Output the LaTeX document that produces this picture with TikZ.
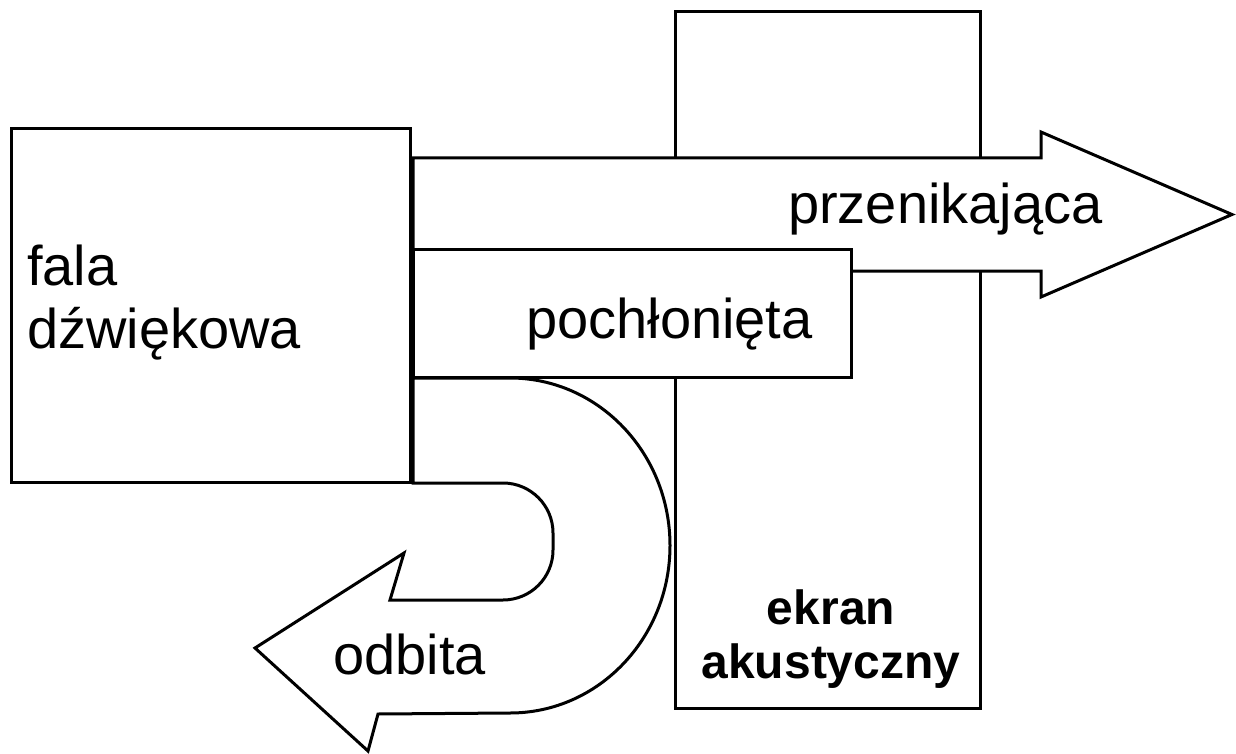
\documentclass[tikz,border=0pt]{standalone}
\usepackage{fontspec}
\setmainfont{Liberation Sans}
\begin{document}
\begin{tikzpicture}[x=1pt,y=-1pt,
  shapeline/.style={draw=black, line width=3pt, fill=white, line join=miter},
  lbl/.style={font=\fontsize{56}{66}\selectfont, inner sep=0pt, anchor=base west},
  boldlbl/.style={font=\bfseries\fontsize{48}{54}\selectfont, inner sep=0pt, anchor=base}]
\useasboundingbox (0,0) rectangle (1236,754);
% screen
\draw[shapeline] (675,12) rectangle (980,708);
% source
\draw[shapeline] (11,129) rectangle (410,482);
% transmitted arrow
\draw[shapeline] (413,158) -- (1041,158) -- (1041,132) -- (1232,214.5) -- (1041,297) -- (1041,271) -- (413,271) -- cycle;
% absorbed
\draw[shapeline] (413,249) rectangle (851,377);
% reflected U arrow
\draw[shapeline] (413,378) -- (510,378)
  arc[start angle=-90, end angle=90, x radius=160, y radius=167.5]
  -- (378,714) -- (368,751) -- (255,648) -- (404,553) -- (390,600) -- (503,600)
  arc[start angle=90, end angle=0, radius=50] -- (553,533)
  arc[start angle=0, end angle=-90, radius=50] -- (413,483) -- cycle;
% labels
\node[lbl] (fala) at (27,285) {fala};
\node[lbl] (dzw) at (27,348) {dźwiękowa};
\node[lbl] (prz) at (788,223) {przenikająca};
\node[lbl] (poch) at (526,338) {pochłonięta};
\node[lbl] (odb) at (333,674) {odbita};
\node[boldlbl] (ekr) at (831,624) {ekran};
\node[boldlbl] (aku) at (831,678) {akustyczny};
\end{tikzpicture}
\end{document}
